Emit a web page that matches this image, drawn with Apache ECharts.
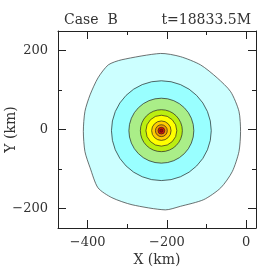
<!DOCTYPE html>
<html><head><meta charset="utf-8">
<script src="https://cdn.jsdelivr.net/npm/echarts@6/dist/echarts.min.js"></script>
<style>html,body{margin:0;padding:0;background:#fff}#c{width:270px;height:270px}</style>
</head><body><div id="c"></div>
<script>
// ---- data (km) ----
const titleLeft = 'Case  B';
const titleRight = 't=18833.5M';
const xMin = -475, xMax = 25, yMin = -250, yMax = 250;
const xMajorTicks = [-400, -200, 0];
const xMinorTicks = [-300, -100];
const yMajorTicks = [-200, 0, 200];
const yMinorTicks = [-100, 100];
// outermost contour vertices
const outerX = [-216, -314, -348, -374, -394, -407, -411, -407, -394, -374, -339, -288, -204, -166, -107, -64, -35, -18, -14, -18, -39, -73, -115, -166];
const outerY = [193, 177, 164, 131, 88, 46, -5, -56, -97, -148, -173, -191, -204, -195, -178, -148, -107, -56, -5, 46, 96, 131, 164, 185];
// inner (near-circular) contours: centre and radii
const coreCenter = [-214, -3];
const innerRadii = [126, 82, 53, 39, 24.5, 15, 8.5, 4];
// ---- styles ----
const outerColor = '#ccffff';
const innerColors = ['#99ffff', '#aaee88', '#bbee11', '#ffff00', '#ffcc00', '#ee9900', '#ee1100', '#aa0000'];
const FONT = 'DejaVu Serif';
const TXT = '#333';
const fmt = v => v < 0 ? '\u2212' + (-v) : String(v);

function xAx(pos, ticks, len, main) {
  return {
    type: 'value', min: xMin, max: xMax, position: pos,
    axisLine: {show: !!main, onZero: false, lineStyle: {color: '#222', width: 1}},
    axisTick: {show: true, inside: true, length: len, customValues: ticks, lineStyle: {color: '#222', width: 1}},
    axisLabel: (main && pos === 'bottom') ? {show: true, customValues: ticks, formatter: fmt, fontFamily: FONT, fontSize: 13, color: TXT, margin: 8} : {show: false},
    splitLine: {show: false},
    name: (main && pos === 'bottom') ? 'X (km)' : '',
    nameLocation: 'middle', nameGap: 25, nameMoveOverlap: false,
    nameTextStyle: {fontFamily: FONT, fontSize: 14, color: TXT}
  };
}
function yAx(pos, ticks, len, main) {
  return {
    type: 'value', min: yMin, max: yMax, position: pos,
    axisLine: {show: !!main, onZero: false, lineStyle: {color: '#222', width: 1}},
    axisTick: {show: true, inside: true, length: len, customValues: ticks, lineStyle: {color: '#222', width: 1}},
    axisLabel: (main && pos === 'left') ? {show: true, customValues: ticks, formatter: fmt, fontFamily: FONT, fontSize: 13, color: TXT, margin: 10} : {show: false},
    splitLine: {show: false},
    name: (main && pos === 'left') ? 'Y (km)' : '',
    nameLocation: 'middle', nameGap: 40, nameMoveOverlap: false,
    nameTextStyle: {fontFamily: FONT, fontSize: 14, color: TXT}
  };
}

const chart = echarts.init(document.getElementById('c'), null, {renderer: 'canvas'});
chart.setOption({
  animation: false,
  backgroundColor: '#fff',
  grid: {left: 58, top: 31, width: 198, height: 197, containLabel: false, outerBoundsMode: 'none'},
  title: [
    {text: titleLeft, left: 59, top: 8, textStyle: {fontFamily: FONT, fontSize: 14, fontWeight: 'normal', color: TXT}},
    {text: titleRight, right: 14, top: 8, textStyle: {fontFamily: FONT, fontSize: 14, fontWeight: 'normal', color: TXT}}
  ],
  xAxis: [
    xAx('bottom', xMajorTicks, 8, true),
    xAx('bottom', xMinorTicks, 4, false),
    xAx('top', xMajorTicks, 8, true),
    xAx('top', xMinorTicks, 4, false)
  ],
  yAxis: [
    yAx('left', yMajorTicks, 8, true),
    yAx('left', yMinorTicks, 4, false),
    yAx('right', yMajorTicks, 8, true),
    yAx('right', yMinorTicks, 4, false)
  ],
  series: [
    {
      type: 'custom', xAxisIndex: 0, yAxisIndex: 0, clip: true,
      data: [[outerX[0], outerY[0]]],
      renderItem: function (params, api) {
        const pts = outerX.map((x, i) => api.coord([x, outerY[i]]));
        return {type: 'polygon', shape: {points: pts, smooth: 0.25},
          style: {fill: outerColor, stroke: '#333', lineWidth: 0.7}};
      },
      z: 1
    },
    {
      type: 'custom', xAxisIndex: 0, yAxisIndex: 0, clip: true,
      data: innerRadii.map((r, i) => [coreCenter[0], coreCenter[1], r, i]),
      renderItem: function (params, api) {
        const c = api.coord([api.value(0), api.value(1)]);
        const rr = api.size([api.value(2), 0])[0];
        return {type: 'circle', shape: {cx: c[0], cy: c[1], r: rr},
          style: {fill: innerColors[api.value(3)], stroke: '#222', lineWidth: 0.7}};
      },
      z: 2
    }
  ]
});
</script>
</body></html>
